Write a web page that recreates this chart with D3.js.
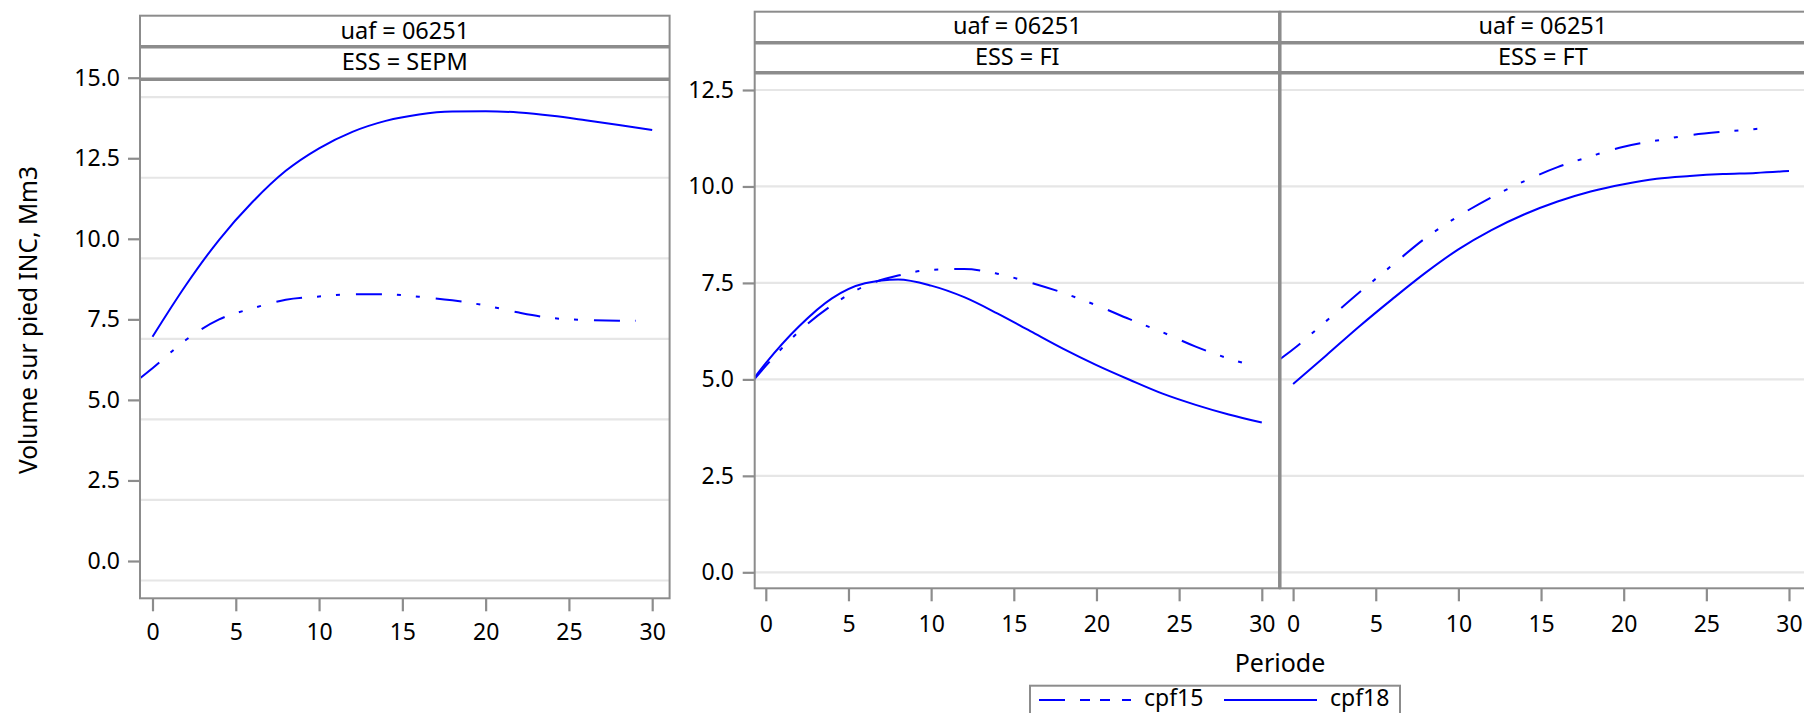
<!DOCTYPE html>
<html><head><meta charset="utf-8">
<script src="https://cdn.jsdelivr.net/npm/d3@7"></script>
<style>
body{margin:0;background:#fff}
svg{display:block}
text{font-family:'Noto Sans',sans-serif;fill:#000}
</style>
</head><body>
<svg id="chart" width="1804" height="713"></svg>
<script>
// ---------- data ----------
const uafLabel = "uaf = 06251";
const essLabels = ["SEPM", "FI", "FT"];
const seriesNames = ["cpf15", "cpf18"];
const xTicks = [0, 5, 10, 15, 20, 25, 30];
const yTicksLeft = [0, 2.5, 5, 7.5, 10, 12.5, 15];
const yTicksRight = [0, 2.5, 5, 7.5, 10, 12.5];

const periods18   = [0, 2, 4, 6, 8, 10, 12, 14, 16, 18, 20, 22, 24, 26, 28, 30];
const periodsFI18 = [-0.8, 0, 2, 4, 6, 8, 10, 12, 14, 16, 18, 20, 22, 24, 26, 28, 30];
const periods15   = [-0.8, 0, 2, 4, 6, 8, 10, 12, 14, 16, 18, 20, 22, 24, 26, 28, 29];

const sepmCpf15 = [5.65, 5.98, 6.86, 7.50, 7.84, 8.11, 8.21, 8.28, 8.28, 8.20, 8.09, 7.93, 7.71, 7.54, 7.48, 7.46, 7.46];
const sepmCpf18 = [6.96, 8.56, 9.97, 11.14, 12.11, 12.81, 13.32, 13.66, 13.86, 13.95, 13.96, 13.92, 13.82, 13.68, 13.53, 13.38];
const fiCpf15   = [4.95, 5.35, 6.24, 6.92, 7.42, 7.69, 7.84, 7.86, 7.74, 7.51, 7.24, 6.92, 6.56, 6.22, 5.85, 5.54, 5.41];
const fiCpf18   = [4.98, 5.42, 6.37, 7.10, 7.49, 7.59, 7.43, 7.13, 6.71, 6.25, 5.79, 5.37, 4.99, 4.63, 4.34, 4.09, 3.88];
const ftCpf15   = [5.52, 5.78, 6.51, 7.25, 7.96, 8.66, 9.23, 9.72, 10.14, 10.50, 10.78, 11.03, 11.19, 11.33, 11.42, 11.49, 11.53];
const ftCpf18   = [4.88, 5.62, 6.37, 7.08, 7.76, 8.37, 8.87, 9.28, 9.61, 9.87, 10.06, 10.20, 10.27, 10.32, 10.35, 10.40];

// ---------- style ----------
const LINE = "#0000ff";
const FRAME = "#8c8c8c";
const GRID = "#e6e6e6";
const DASHDOT = "26,15,4,15,4,16";
const FS_TICK = 23, FS_HEAD = 23.5;

const svg = d3.select("#chart");

const panels = [
  {ess: essLabels[0], x0: 140, x1: 669.6, xr: [152.5, 652.2], top: 15.7, h1: 46.7, plotTop: 79.3, bottom: 598.3,
   yDomain: [0, 15], yRange: [561, 77.7], yTicks: yTicksLeft, gridOffset: 19.5, showY: true,
   head1Base: 38.5, head2Base: 69.5, xLabelBase: 640, yLabelRight: 120,
   series: [{name: seriesNames[0], t: periods15, v: sepmCpf15}, {name: seriesNames[1], t: periods18, v: sepmCpf18}]},
  {ess: essLabels[1], x0: 754.7, x1: 1279.8, xr: [765.8, 1261.8], top: 11.7, h1: 42.7, plotTop: 72.7, bottom: 588.3,
   yDomain: [0, 12.5], yRange: [572.3, 90], yTicks: yTicksRight, gridOffset: 0, showY: true,
   head1Base: 33.5, head2Base: 64.5, xLabelBase: 631.7, yLabelRight: 734,
   series: [{name: seriesNames[0], t: periods15, v: fiCpf15}, {name: seriesNames[1], t: periodsFI18, v: fiCpf18}]},
  {ess: essLabels[2], x0: 1279.8, x1: 1806, xr: [1293.1, 1789], top: 11.7, h1: 42.7, plotTop: 72.7, bottom: 588.3,
   yDomain: [0, 12.5], yRange: [572.3, 90], yTicks: yTicksRight, gridOffset: 0, showY: false,
   head1Base: 33.5, head2Base: 64.5, xLabelBase: 631.7, yLabelRight: 0,
   series: [{name: seriesNames[0], t: periods15, v: ftCpf15}, {name: seriesNames[1], t: periods18, v: ftCpf18}]}
];

const defs = svg.append("defs");

panels.forEach((p, i) => {
  const x = d3.scaleLinear().domain([0, 30]).range(p.xr);
  const y = d3.scaleLinear().domain(p.yDomain).range(p.yRange);
  const g = svg.append("g");

  defs.append("clipPath").attr("id", "clip" + i)
    .append("rect").attr("x", p.x0).attr("y", p.plotTop)
    .attr("width", p.x1 - p.x0).attr("height", p.bottom - p.plotTop);

  // gridlines
  g.append("g").selectAll("line").data(p.yTicks).join("line")
    .attr("x1", p.x0).attr("x2", p.x1)
    .attr("y1", d => y(d) + p.gridOffset).attr("y2", d => y(d) + p.gridOffset)
    .attr("stroke", GRID).attr("stroke-width", 2.2);

  // curves
  const line = d3.line().x(d => x(d[0])).y(d => y(d[1])).curve(d3.curveMonotoneX);
  const cg = g.append("g").attr("clip-path", `url(#clip${i})`);
  p.series.forEach(s => {
    const pts = s.t.map((t, k) => [t, s.v[k]]);
    cg.append("path").datum(pts).attr("d", line)
      .attr("fill", "none").attr("stroke", LINE).attr("stroke-width", 2)
      .attr("stroke-dasharray", s.name === "cpf15" ? DASHDOT : null);
  });

  // frame
  g.append("rect").attr("x", p.x0).attr("y", p.top)
    .attr("width", p.x1 - p.x0).attr("height", p.bottom - p.top)
    .attr("fill", "none").attr("stroke", FRAME).attr("stroke-width", 2);
  [p.h1, p.plotTop].forEach(yy => {
    g.append("line").attr("x1", p.x0).attr("x2", p.x1).attr("y1", yy).attr("y2", yy)
      .attr("stroke", FRAME).attr("stroke-width", 3.5);
  });

  // headers
  const cx = (p.x0 + p.x1) / 2;
  g.append("text").attr("x", cx).attr("y", p.head1Base).attr("text-anchor", "middle")
    .attr("font-size", FS_HEAD).text(uafLabel);
  g.append("text").attr("x", cx).attr("y", p.head2Base).attr("text-anchor", "middle")
    .attr("font-size", FS_HEAD).text("ESS = " + p.ess);

  // x axis
  const xa = g.append("g").attr("transform", `translate(0,${p.bottom})`)
    .call(d3.axisBottom(x).tickValues(xTicks).tickSize(13)
      .tickPadding(p.xLabelBase - p.bottom - 13 - 0.71 * FS_TICK));
  xa.select(".domain").remove();
  xa.selectAll(".tick line").attr("stroke", FRAME).attr("stroke-width", 2.2);
  xa.selectAll(".tick text").attr("font-size", FS_TICK).attr("font-family", "'Noto Sans',sans-serif").attr("fill", "#000");

  // y axis
  if (p.showY) {
    const ya = g.append("g").attr("transform", `translate(${p.x0},0)`)
      .call(d3.axisLeft(y).tickValues(p.yTicks).tickSize(12)
        .tickPadding(p.x0 - p.yLabelRight - 12).tickFormat(d3.format(".1f")));
    ya.select(".domain").remove();
    ya.selectAll(".tick line").attr("stroke", FRAME).attr("stroke-width", 2.2);
    ya.selectAll(".tick text").attr("font-size", FS_TICK).attr("font-family", "'Noto Sans',sans-serif").attr("fill", "#000");
  }
});

// divider between FI and FT
svg.append("line").attr("x1", 1279.8).attr("x2", 1279.8).attr("y1", 11.7).attr("y2", 588.3)
  .attr("stroke", FRAME).attr("stroke-width", 3.5);

// axis titles
svg.append("text").attr("transform", "translate(37,320) rotate(-90)")
  .attr("text-anchor", "middle").attr("font-size", 24.5).text("Volume sur pied INC, Mm3");
svg.append("text").attr("x", 1280).attr("y", 671.7).attr("text-anchor", "middle")
  .attr("font-size", 25).text("Periode");

// legend
const lg = svg.append("g");
lg.append("rect").attr("x", 1030).attr("y", 685.7).attr("width", 370).attr("height", 60)
  .attr("fill", "#fff").attr("stroke", FRAME).attr("stroke-width", 2);
lg.append("line").attr("x1", 1039).attr("x2", 1131).attr("y1", 700).attr("y2", 700)
  .attr("stroke", LINE).attr("stroke-width", 2).attr("stroke-dasharray", "26,15,10,10,10,12,10,100");
lg.append("text").attr("x", 1144).attr("y", 706).attr("font-size", 23).text(seriesNames[0]);
lg.append("line").attr("x1", 1224).attr("x2", 1317).attr("y1", 700).attr("y2", 700)
  .attr("stroke", LINE).attr("stroke-width", 2);
lg.append("text").attr("x", 1330).attr("y", 706).attr("font-size", 23).text(seriesNames[1]);
</script>
</body></html>
